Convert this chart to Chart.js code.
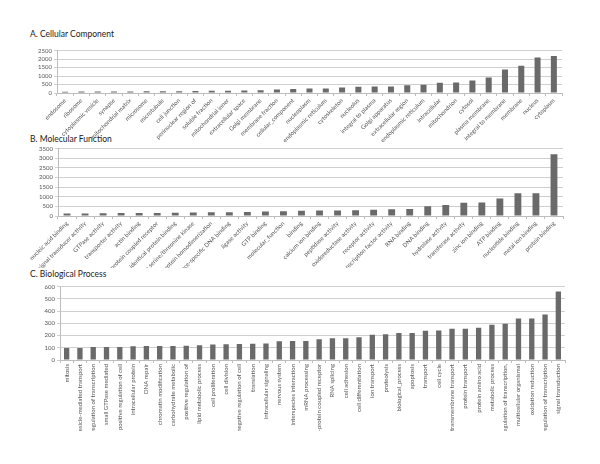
<!DOCTYPE html>
<html>
<head>
<meta charset="utf-8">
<script src="https://cdn.jsdelivr.net/npm/chart.js@4"></script>
<style>
  body { margin: 0; background: #fff; }
  #wrap { position: relative; width: 600px; height: 464px; overflow: hidden; }
  canvas { position: absolute; left: 0; }
  .ttl { position: absolute; left: 30px; font-family: Lato, sans-serif; font-size: 8.5px; color: #222; }
</style>
</head>
<body>
<div id="wrap">
  <div class="ttl" style="top:29px">A. Cellular Component</div>
  <div class="ttl" style="top:134px">B. Molecular Function</div>
  <div class="ttl" style="top:269px">C. Biological Process</div>
  <canvas id="ccChart" width="600" height="100" style="top:45px"></canvas>
  <canvas id="mfChart" width="600" height="125" style="top:143px"></canvas>
  <canvas id="bpChart" width="600" height="150" style="top:281px"></canvas>
</div>
<script>
// A. Cellular Component
const ccLabels = ['endosome', 'ribosome', 'cytoplasmic vesicle', 'synapse', 'mitochondrial matrix',
  'microsome', 'microtubule', 'cell junction', 'perinuclear region of', 'soluble fraction',
  'mitochondrial inner', 'extracellular space', 'Golgi membrane', 'membrane fraction',
  'cellular_component', 'nucleoplasm', 'endoplasmic reticulum', 'cytoskeleton', 'nucleolus',
  'integral to plasma', 'Golgi apparatus', 'extracellular region', 'endoplasmic reticulum',
  'intracellular', 'mitochondrion', 'cytosol', 'plasma membrane', 'integral to membrane',
  'membrane', 'nucleus', 'cytoplasm'];
const ccValues = [80, 85, 90, 90, 95, 100, 100, 110, 115, 130, 135, 150, 160, 210, 240,
  260, 270, 330, 370, 380, 390, 460, 480, 600, 620, 730, 920, 1380, 1600, 2100, 2180];
const ccTicks = [0, 500, 1000, 1500, 2000, 2500];

// B. Molecular Function
const mfLabels = ['nucleic acid binding', 'signal transducer activity', 'GTPase activity',
  'transporter activity', 'actin binding', 'G-protein coupled receptor', 'identical protein binding',
  'protein serine/threonine kinase', 'protein homodimerization', 'sequence-specific DNA binding',
  'ligase activity', 'GTP binding', 'molecular_function', 'binding', 'calcium ion binding',
  'peptidase activity', 'oxidoreductase activity', 'receptor activity',
  'transcription factor activity', 'RNA binding', 'DNA binding', 'hydrolase activity',
  'transferase activity', 'zinc ion binding', 'ATP binding', 'nucleotide binding',
  'metal ion binding', 'protein binding'];
const mfValues = [130, 135, 140, 150, 155, 160, 175, 185, 190, 195, 210, 230, 250, 270, 280,
  290, 295, 330, 345, 360, 500, 570, 690, 700, 910, 1180, 1180, 3210];
const mfTicks = [0, 500, 1000, 1500, 2000, 2500, 3000, 3500];

// C. Biological Process
const bpLabels = ['mitosis', 'vesicle-mediated transport', 'regulation of transcription',
  'small GTPase mediated', 'positive regulation of cell', 'intracellular protein', 'DNA repair',
  'chromatin modification', 'carbohydrate metabolic', 'positive regulation of',
  'lipid metabolic process', 'cell proliferation', 'cell division', 'negative regulation of cell',
  'translation', 'intracellular signaling', 'nervous system', 'interspecies interaction',
  'mRNA processing', 'G-protein coupled receptor', 'RNA splicing', 'cell adhesion',
  'cell differentiation', 'ion transport', 'proteolysis', 'biological_process', 'apoptosis',
  'transport', 'cell cycle', 'transmembrane transport', 'protein transport', 'protein amino acid',
  'metabolic process', 'regulation of transcription,', 'multicellular organismal',
  'oxidation reduction', 'regulation of transcription', 'signal transduction'];
const bpValues = [99, 99, 107, 107, 107, 113, 115, 115, 115, 116, 121, 127, 129, 130, 132, 135,
  153, 156, 156, 169, 177, 177, 185, 207, 210, 220, 220, 240, 242, 256, 256, 264, 288, 296,
  339, 339, 371, 559];
const bpTicks = [0, 100, 200, 300, 400, 500, 600];

const tickFont = { family: 'Lato, sans-serif', size: 6 };

function makeChart(id, labels, values, yTicks, opt) {
  const ctx = document.getElementById(id).getContext('2d');
  return new Chart(ctx, {
    type: 'bar',
    data: {
      labels: labels,
      datasets: [{
        data: values,
        backgroundColor: '#6a6a6a',
        borderWidth: 0,
        barPercentage: opt.bar,
        categoryPercentage: 1
      }]
    },
    options: {
      responsive: false,
      animation: false,
      layout: { padding: { left: 0, right: opt.right, top: opt.top, bottom: 0 } },
      plugins: { legend: { display: false }, tooltip: { enabled: false } },
      scales: {
        x: {
          grid: { display: true, drawOnChartArea: false, offset: true, tickLength: 3, color: '#bdbdbd' },
          border: { color: '#bdbdbd' },
          ticks: {
            autoSkip: false, minRotation: opt.rot, maxRotation: opt.rot,
            font: tickFont, color: '#555', padding: 1
          },
          afterFit: function (scale) { scale.height = opt.xh; }
        },
        y: {
          min: yTicks[0],
          max: yTicks[yTicks.length - 1],
          grid: { color: '#cfcfcf', tickLength: 3 },
          border: { color: '#bdbdbd' },
          ticks: {
            stepSize: yTicks[1] - yTicks[0], autoSkip: false, font: tickFont, color: '#555', padding: 2,
            callback: function (v) { return String(v); }
          },
          afterFit: function (scale) { scale.width = opt.left; }
        }
      }
    }
  });
}

makeChart('ccChart', ccLabels, ccValues, ccTicks, { bar: 0.37, rot: 45, left: 57, right: 38, top: 4, xh: 52 });
makeChart('mfChart', mfLabels, mfValues, mfTicks, { bar: 0.38, rot: 45, left: 58, right: 37, top: 5, xh: 52 });
makeChart('bpChart', bpLabels, bpValues, bpTicks, { bar: 0.4, rot: 90, left: 60, right: 35, top: 5, xh: 71 });
</script>
</body>
</html>
